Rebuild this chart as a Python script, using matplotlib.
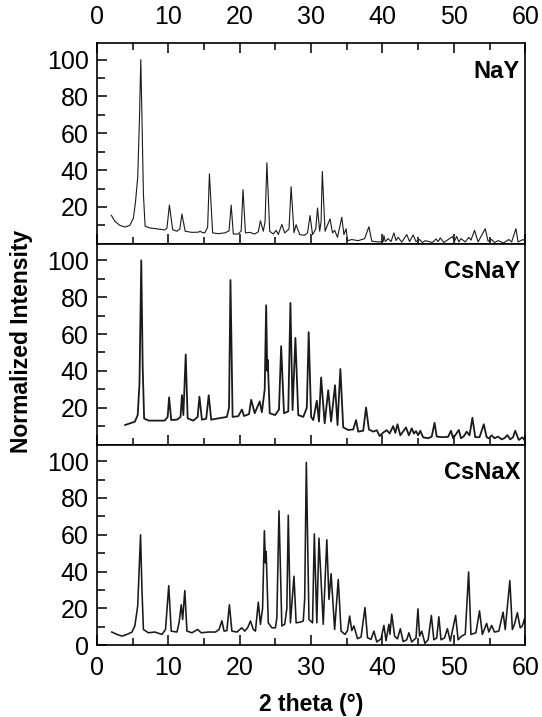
import matplotlib
matplotlib.use("Agg")
import matplotlib.pyplot as plt
from matplotlib.ticker import MultipleLocator, FixedLocator

plt.rcParams["font.family"] = ["Liberation Sans", "DejaVu Sans"]

# NaY pattern, (2 theta, intensity) vertices
nay_2theta = [2.0, 2.5, 3.2, 3.9, 4.6, 5.1, 5.4, 5.7, 5.95, 6.13, 6.3, 6.5, 6.74, 7.4, 8.6, 9.5,
              9.8, 10.14, 10.6, 11.2, 11.6, 11.9, 12.35, 13.3, 14.2, 14.45, 14.7, 15.1, 15.5, 15.75,
              16.2, 17.0, 17.9, 18.5, 18.8, 19.1, 19.8, 20.2, 20.46, 20.8, 21.4, 22.1, 22.6, 22.9,
              23.3, 23.55, 23.8, 24.2, 24.7, 25.1, 25.4, 25.9, 26.3, 26.9, 27.2, 27.6, 27.9, 28.4,
              29.1, 29.5, 29.85, 30.2, 30.65, 30.9, 31.2, 31.4, 31.57, 31.95, 32.65, 33.0, 33.3,
              33.7, 34.3, 34.6, 34.9, 35.1, 35.7, 36.6, 37.5, 38.1, 38.5, 39.4, 40.1, 40.2, 40.4,
              40.8, 41.2, 41.6, 41.9, 42.2, 42.7, 43.4, 43.8, 44.3, 44.7, 45.2, 45.6, 46.0, 47.0,
              47.5, 47.8, 48.1, 48.6, 49.8, 50.1, 50.4, 50.7, 51.0, 51.6, 52.1, 52.4, 52.9, 53.4,
              54.4, 54.8, 55.3, 55.7, 56.2, 57.0, 57.7, 58.1, 58.7, 59.0, 59.7, 60.0]
nay_int = [15.5, 12.2, 10.0, 9.1, 10.0, 14.0, 23, 36, 68, 100, 68, 27, 9.5, 8.6, 8.0, 7.5,
           8.5, 21, 7.7, 6.8, 8, 16.2, 6.8, 6.2, 6.3, 6.8, 6.2, 5.9, 9, 38,
           5.9, 5.5, 5.9, 7, 21, 5.3, 5.3, 7, 29.4, 5.9, 6.2, 5.3, 6.5, 12.5,
           6.8, 12, 44, 6.8, 5.3, 7.3, 5.0, 10.5, 5.9, 8, 31, 6, 10.4, 5.0,
           4.6, 6, 15.3, 5.0, 8, 19.4, 6.8, 12, 39.3, 6.8, 13.5, 5.9, 7.3,
           3.5, 14.4, 5.0, 8.2, 1.7, 2.3, 1.7, 2.8, 9.3, 1.4, 1.0, 1.2, 4.4, 1.2,
           2.8, 1.2, 5.9, 1.8, 3.5, 0.9, 5.0, 1.2, 4.8, 1.2, 2.3, 0.7, 1.7, 0.7,
           2.6, 1.2, 3.2, 0.7, 3.9, 1.4, 4.0, 1.0, 2.8, 1.0, 3.5, 2, 7.3, 1.0,
           8.2, 1.4, 2.3, 0.7, 1.7, 0.5, 2.3, 1.0, 8.2, 1.0, 2.3, 1.4]

# CsNaY pattern
csnay_2theta = [3.94, 4.6, 5.3, 5.7, 5.95, 6.2, 6.4, 6.6, 7.2, 8.6, 9.5, 9.9, 10.1, 10.4, 11.2,
                11.7, 11.9, 12.1, 12.43, 12.7, 13.5, 14.1, 14.35, 14.7, 15.3, 15.65, 16.0, 17.0,
                18.2, 18.5, 18.7, 19.0, 19.8, 20.3, 20.6, 21.3, 21.6, 22.1, 22.8, 23.1, 23.5,
                23.7, 23.85, 23.92, 24.2, 24.95, 25.5, 25.8, 26.2, 26.8, 27.1, 27.4, 27.8, 28.2,
                28.9, 29.4, 29.66, 30.0, 30.3, 30.8, 31.1, 31.4, 31.9, 32.4, 32.8, 33.35, 33.7,
                34.1, 34.5, 35.2, 35.9, 36.3, 36.6, 37.3, 37.7, 38.1, 38.7, 39.2, 39.6, 40.1,
                40.6, 41.0, 41.5, 41.8, 42.1, 42.5, 43.3, 43.7, 44.1, 44.4, 44.7, 45.0, 45.3,
                45.7, 46.4, 46.9, 47.3, 47.6, 48.4, 49.2, 49.6, 49.9, 50.7, 51.0, 51.4, 51.8,
                52.2, 52.6, 53.0, 53.6, 54.2, 54.6, 54.9, 55.3, 55.7, 56.2, 56.7, 57.1, 57.5,
                57.9, 58.3, 58.6, 59.1, 59.6, 60.0]
csnay_int = [10.6, 11.5, 12.4, 16, 33, 100, 42, 14.2, 13, 13, 13, 15, 25.6, 13.3, 13.5,
             15, 26.8, 16, 48.9, 14.2, 13, 15, 26, 13.5, 14, 26.8, 13.5, 14.2,
             15, 20, 89.3, 15, 15.4, 19, 15.5, 16.5, 24.3, 17, 23.4, 17.5, 30,
             75.6, 40, 46, 17, 16, 19, 53.4, 17, 18, 76.9, 18.7, 57.9, 16,
             15, 20, 61, 15, 13.3, 23.8, 12.5, 36.4, 11.5, 29.5, 12.5, 32.2, 10.6,
             41, 9.3, 7.9, 8.2, 13.3, 7.0, 7.5, 20.1, 8.2, 7.0, 7.8, 4.6, 6.5,
             7.8, 6, 10, 6.3, 11, 5, 9.3, 5, 8.8, 6, 7.3, 5, 7.5,
             3.9, 3.4, 4.3, 11.8, 4.3, 4, 4.2, 7.5, 3.4, 7.9, 3.4, 4.5, 7.0,
             5, 14.5, 4, 4, 11, 4, 3.4, 5, 3.4, 4.3, 2.8, 3.5, 5.1,
             2.8, 4, 7.5, 2.5, 3.9, 2.0]

# CsNaX pattern
csnax_2theta = [2.07, 2.8, 3.5, 4.2, 4.9, 5.3, 5.7, 6.1, 6.3, 6.5, 7.2, 8.1, 9.1, 9.6, 10.05,
                10.4, 11.2, 11.5, 11.8, 12.0, 12.3, 12.6, 13.3, 14.1, 14.6, 15.6, 16.6, 17.1,
                17.5, 17.8, 18.2, 18.55, 18.9, 19.6, 20.3, 20.7, 21.1, 21.5, 21.9, 22.2, 22.6,
                22.9, 23.2, 23.45, 23.6, 23.7, 24.0, 24.5, 25.0, 25.2, 25.5, 25.9, 26.3, 26.6,
                26.8, 27.1, 27.6, 27.9, 28.5, 28.9, 29.1, 29.33, 29.7, 30.2, 30.45, 30.8, 31.1,
                31.7, 32.2, 32.5, 32.8, 33.3, 33.8, 34.2, 34.75, 35.1, 35.4, 35.7, 36.0, 36.5,
                37.0, 37.55, 37.9, 38.4, 38.8, 39.2, 39.8, 40.2, 40.5, 40.9, 41.05, 41.3, 41.7,
                42.1, 42.5, 42.9, 43.4, 43.7, 44.1, 44.7, 44.97, 45.2, 45.5, 45.95, 46.4, 46.85,
                47.2, 47.6, 47.9, 48.2, 48.7, 49.1, 49.5, 50.25, 50.6, 51.1, 51.6, 52.07, 52.4,
                53.1, 53.6, 54.0, 54.6, 54.9, 55.3, 55.7, 56.3, 56.9, 57.2, 57.85, 58.2, 58.5,
                58.9, 59.3, 59.6, 59.9, 60.0]
csnax_int = [7.2, 5.9, 5.0, 5.9, 7.2, 10.5, 21.3, 60, 30, 8.6, 6.8, 7.2, 5.9, 8.6, 32.4,
             7.7, 7.2, 12.3, 22, 14, 29.7, 7.7, 6.8, 8.6, 6.8, 7.2, 7.2, 8.6,
             13.3, 7.7, 8, 22, 7.7, 7.2, 9.5, 7.7, 9.5, 13.2, 8.6, 7.7, 23.4,
             11.4, 20, 62.2, 44.7, 51, 12.2, 9.5, 9.5, 15, 73, 10.5, 11.4, 20,
             70.6, 12.2, 37.5, 12.2, 12.6, 13.2, 25, 99.3, 14, 12.2, 60.5, 12.2, 58.2,
             11.4, 57.3, 24.9, 38.9, 8.6, 35.7, 7.7, 5.9, 8, 15.9, 8, 10.5, 3.6,
             4.5, 20.5, 4.1, 3.2, 7.7, 1.8, 3.5, 10.8, 2.5, 11.4, 6, 16.9, 5.0,
             3.5, 9.0, 2, 3, 6.8, 1.8, 4, 19.8, 5, 7.7, 1.1, 3, 16.2,
             3, 4, 15.5, 3, 4, 9.0, 2.3, 16.2, 3, 5, 6, 39.8, 5.9,
             6.8, 18.7, 5.9, 11.9, 7.2, 10.8, 7.2, 7.7, 18, 8.6, 35.1, 8.6, 11.4,
             17.7, 9.5, 10.5, 14.4, 12]

panels = [
    ("NaY", nay_2theta, nay_int, 0.8),
    ("CsNaY", csnay_2theta, csnay_int, 1.3),
    ("CsNaX", csnax_2theta, csnax_int, 1.15),
]

fig, axes = plt.subplots(3, 1, sharex=True, figsize=(5.42, 7.17), dpi=100)
fig.subplots_adjust(left=0.179, right=0.969, top=0.940, bottom=0.100, hspace=0)

for i, (name, x, y, lw) in enumerate(panels):
    ax = axes[i]
    ax.plot(x, y, color="#1a1a1a", lw=lw)
    ax.set_xlim(0, 60)
    ax.set_ylim(0, 109)
    ax.xaxis.set_major_locator(MultipleLocator(10))
    ax.xaxis.set_minor_locator(MultipleLocator(5))
    if i == 2:
        ax.yaxis.set_major_locator(FixedLocator([0, 20, 40, 60, 80, 100]))
    else:
        ax.yaxis.set_major_locator(FixedLocator([20, 40, 60, 80, 100]))
    ax.yaxis.set_minor_locator(FixedLocator([10, 30, 50, 70, 90]))
    for s in ax.spines.values():
        s.set_linewidth(1.2)
    ax.tick_params(axis="both", which="both", direction="in", labelsize=18,
                   left=True, right=False, top=(i == 0), bottom=True, width=1.1)
    ax.tick_params(axis="y", which="major", length=7, pad=6)
    ax.tick_params(axis="y", which="minor", length=6)
    ax.tick_params(axis="x", which="major", length=7)
    ax.tick_params(axis="x", which="minor", length=5)
    if i == 0:
        ax.tick_params(axis="x", which="both", labeltop=True, labelbottom=False, pad=10)
    elif i == 2:
        ax.tick_params(axis="x", which="both", labelbottom=True, pad=8)
    ax.text(0.988, 0.86, name, transform=ax.transAxes, ha="right", va="center",
            fontsize=17, fontweight="bold")

fig.text(0.04, 0.524, "Normalized Intensity", rotation=90, ha="center", va="center",
         fontsize=16.5, fontweight="bold")
fig.text(0.574, 0.018, "2 theta (\u00b0)", ha="center", va="center",
         fontsize=16.5, fontweight="bold")

fig.savefig("out.png", dpi=100)
